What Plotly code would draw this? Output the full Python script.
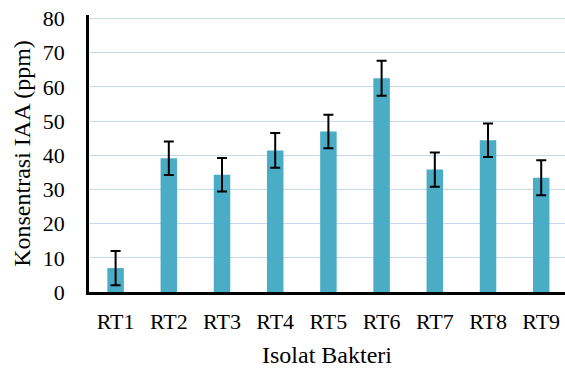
import plotly.graph_objects as go

categories = ["RT1", "RT2", "RT3", "RT4", "RT5", "RT6", "RT7", "RT8", "RT9"]
values = [7.0, 39.1, 34.3, 41.4, 46.9, 62.5, 35.8, 44.4, 33.4]
errors = [5.0, 4.9, 4.9, 5.1, 4.9, 5.1, 5.0, 4.9, 5.1]
y_ticks = [0, 10, 20, 30, 40, 50, 60, 70, 80]

FONT = "Liberation Serif, Times New Roman, serif"

fig = go.Figure(
    go.Bar(
        x=categories,
        y=values,
        width=0.31,
        marker=dict(color="#4BACC6", line=dict(width=0)),
        error_y=dict(type="data", array=errors, visible=True,
                     color="black", thickness=2, width=5),
    )
)

fig.update_layout(
    width=565, height=368,
    margin=dict(l=89, r=0, t=15, b=76),
    paper_bgcolor="white", plot_bgcolor="white",
    font=dict(family=FONT, size=22, color="black"),
    showlegend=False,
    xaxis=dict(
        type="category",
        range=[-0.5, 8.447],
        automargin=False,
        showline=True, linecolor="black", linewidth=2.5,
        ticks="", showgrid=False,
        tickfont=dict(size=22),
        ticklabelstandoff=8,
        title=dict(text="Isolat Bakteri", font=dict(size=24), standoff=15),
    ),
    yaxis=dict(
        range=[0, 81],
        tickvals=y_ticks,
        automargin=False,
        showline=True, linecolor="black", linewidth=2.5,
        ticks="", showgrid=True, gridcolor="#C6D9F1", gridwidth=1.3,
        zeroline=False,
        tickfont=dict(size=22),
        ticklabelstandoff=17,
        title=dict(text="Konsentrasi IAA (ppm)", font=dict(size=24), standoff=6),
    ),
)

fig.write_html(
    "out.html",
    config={"displayModeBar": False},
    post_script="document.body.style.margin='0';document.body.style.overflow='hidden';",
)
